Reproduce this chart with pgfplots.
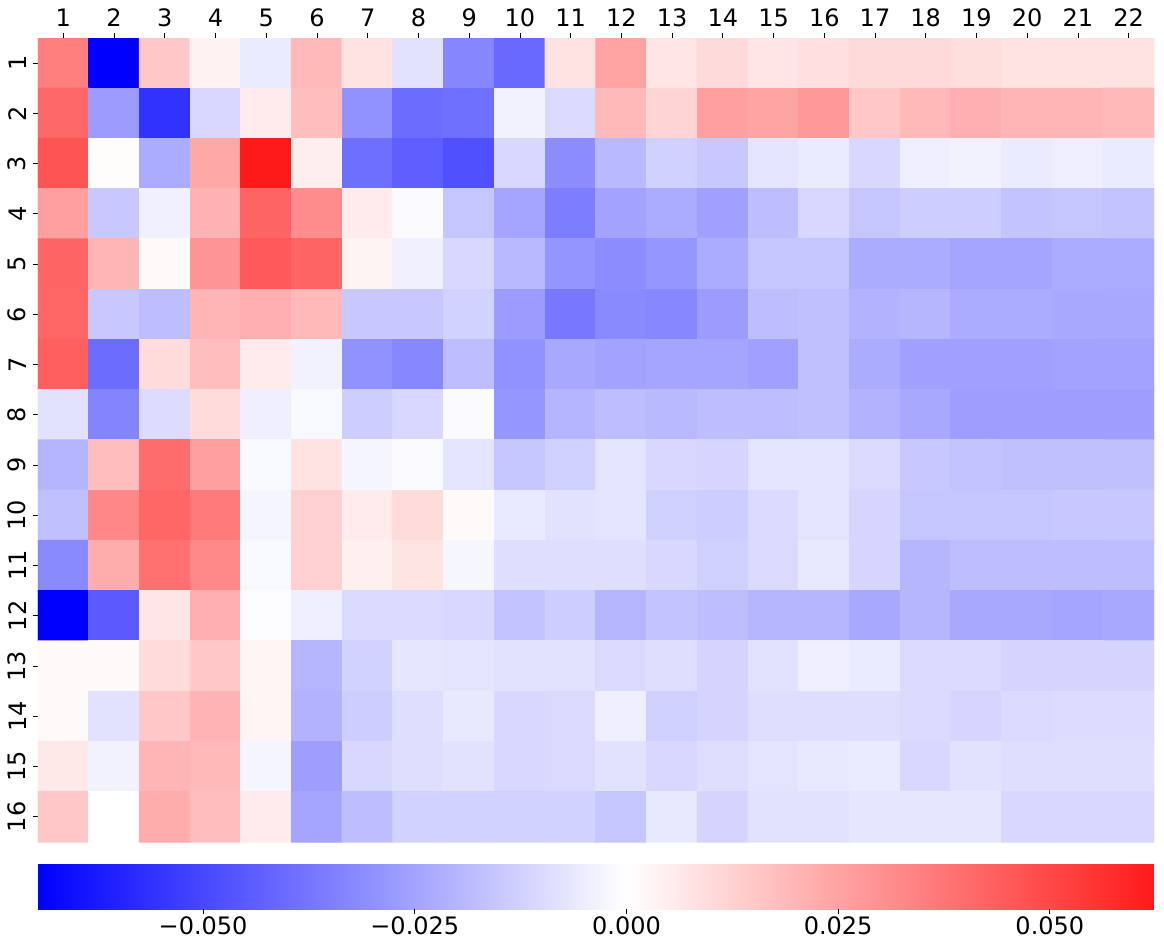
\documentclass[border=0pt]{standalone}
\usepackage{fontspec}
\setmainfont{DejaVu Sans}
\usepackage{pgfplots}
\pgfplotsset{compat=1.18}

\begin{document}
\begin{tikzpicture}
\begin{axis}[
    name=hm,
    scale only axis,
    width=334.8pt, height=241.2pt,
    xmin=0.5, xmax=22.5, ymin=0.5, ymax=16.5,
    y dir=reverse,
    enlargelimits=false,
    axis line style={draw=none},
    xtick={1,...,22}, ytick={1,...,16},
    xtick pos=upper, xticklabel pos=upper,
    ytick pos=left, yticklabel pos=left,
    tick align=outside,
    major tick length=1.5pt,
    tick style={black, line width=0.25pt},
    xticklabel style={yshift=-1.6pt},
    yticklabel style={xshift=1.5pt, rotate=90},
    tick label style={font=\fontsize{7.2}{8.6}\selectfont},
    /pgf/number format/assume math mode=true,
    colormap={bwr}{rgb255(0cm)=(0,0,255) rgb255(6.95cm)=(255,255,255) rgb255(13.18cm)=(255,26,26)},
    point meta min=-0.0695, point meta max=0.0623,
    colorbar horizontal,
    colorbar style={
        scale only axis,
        width=334.8pt, height=13.5pt,
        at={(parent axis.south west)}, anchor=north west, yshift=1.8pt,
        axis line style={draw=none},
        scaled x ticks=false,
        xtick={-0.05,-0.025,0,0.025,0.05},
        xticklabels={−0.050,−0.025,0.000,0.025,0.050},
        tick align=outside,
        major tick length=1.5pt,
        tick style={black, line width=0.25pt},
        xtick pos=lower, xticklabel pos=lower,
        xticklabel style={yshift=3pt},
        tick label style={font=\fontsize{7.2}{8.6}\selectfont},
    },
]
\addplot[matrix plot*, mesh/cols=22, point meta=explicit] coordinates {
(1,1)[0.035] (2,1)[-0.0695] (3,1)[0.015] (4,1)[0.0035] (5,1)[-0.0055] (6,1)[0.019] (7,1)[0.008] (8,1)[-0.008] (9,1)[-0.033] (10,1)[-0.041] (11,1)[0.008] (12,1)[0.025] (13,1)[0.007] (14,1)[0.010] (15,1)[0.007] (16,1)[0.0087] (17,1)[0.010] (18,1)[0.010] (19,1)[0.009] (20,1)[0.008] (21,1)[0.008] (22,1)[0.008]

(1,2)[0.041] (2,2)[-0.027] (3,2)[-0.056] (4,2)[-0.011] (5,2)[0.0055] (6,2)[0.0177] (7,2)[-0.030] (8,2)[-0.040] (9,2)[-0.039] (10,2)[-0.0035] (11,2)[-0.010] (12,2)[0.019] (13,2)[0.0117] (14,2)[0.026] (15,2)[0.025] (16,2)[0.028] (17,2)[0.015] (18,2)[0.019] (19,2)[0.0218] (20,2)[0.020] (21,2)[0.020] (22,2)[0.019]

(1,3)[0.0465] (2,3)[0.0008] (3,3)[-0.023] (4,3)[0.0237] (5,3)[0.0623] (6,3)[0.0046] (7,3)[-0.0395] (8,3)[-0.0436] (9,3)[-0.0477] (10,3)[-0.011] (11,3)[-0.031] (12,3)[-0.019] (13,3)[-0.0125] (14,3)[-0.015] (15,3)[-0.0074] (16,3)[-0.0055] (17,3)[-0.011] (18,3)[-0.0046] (19,3)[-0.0035] (20,3)[-0.0055] (21,3)[-0.0046] (22,3)[-0.0055]

(1,4)[0.026] (2,4)[-0.015] (3,4)[-0.004] (4,4)[0.021] (5,4)[0.042] (6,4)[0.031] (7,4)[0.0055] (8,4)[-0.001] (9,4)[-0.0155] (10,4)[-0.0245] (11,4)[-0.0354] (12,4)[-0.025] (13,4)[-0.023] (14,4)[-0.026] (15,4)[-0.018] (16,4)[-0.011] (17,4)[-0.0155] (18,4)[-0.0136] (19,4)[-0.0136] (20,4)[-0.0164] (21,4)[-0.0155] (22,4)[-0.0164]

(1,5)[0.042] (2,5)[0.020] (3,5)[0.0015] (4,5)[0.029] (5,5)[0.045] (6,5)[0.042] (7,5)[0.003] (8,5)[-0.004] (9,5)[-0.011] (10,5)[-0.019] (11,5)[-0.029] (12,5)[-0.031] (13,5)[-0.0286] (14,5)[-0.023] (15,5)[-0.0155] (16,5)[-0.0155] (17,5)[-0.0226] (18,5)[-0.023] (19,5)[-0.0245] (20,5)[-0.0245] (21,5)[-0.023] (22,5)[-0.023]

(1,6)[0.0417] (2,6)[-0.015] (3,6)[-0.0177] (4,6)[0.020] (5,6)[0.0218] (6,6)[0.019] (7,6)[-0.015] (8,6)[-0.015] (9,6)[-0.0123] (10,6)[-0.027] (11,6)[-0.0368] (12,6)[-0.0319] (13,6)[-0.0327] (14,6)[-0.027] (15,6)[-0.0177] (16,6)[-0.0172] (17,6)[-0.021] (18,6)[-0.020] (19,6)[-0.023] (20,6)[-0.023] (21,6)[-0.0237] (22,6)[-0.0237]

(1,7)[0.0436] (2,7)[-0.040] (3,7)[0.0095] (4,7)[0.018] (5,7)[0.0055] (6,7)[-0.0035] (7,7)[-0.030] (8,7)[-0.0327] (9,7)[-0.0177] (10,7)[-0.030] (11,7)[-0.0237] (12,7)[-0.025] (13,7)[-0.0245] (14,7)[-0.0245] (15,7)[-0.026] (16,7)[-0.0172] (17,7)[-0.0226] (18,7)[-0.026] (19,7)[-0.026] (20,7)[-0.026] (21,7)[-0.025] (22,7)[-0.025]

(1,8)[-0.008] (2,8)[-0.0335] (3,8)[-0.0095] (4,8)[0.0095] (5,8)[-0.0046] (6,8)[-0.002] (7,8)[-0.0136] (8,8)[-0.011] (9,8)[-0.001] (10,8)[-0.0286] (11,8)[-0.0204] (12,8)[-0.0177] (13,8)[-0.019] (14,8)[-0.0177] (15,8)[-0.0177] (16,8)[-0.0172] (17,8)[-0.021] (18,8)[-0.0237] (19,8)[-0.0264] (20,8)[-0.0264] (21,8)[-0.0264] (22,8)[-0.0264]

(1,9)[-0.0204] (2,9)[0.0177] (3,9)[0.040] (4,9)[0.026] (5,9)[-0.002] (6,9)[0.008] (7,9)[-0.0027] (8,9)[-0.0014] (9,9)[-0.0074] (10,9)[-0.0155] (11,9)[-0.0128] (12,9)[-0.0074] (13,9)[-0.011] (14,9)[-0.0114] (15,9)[-0.0074] (16,9)[-0.0074] (17,9)[-0.010] (18,9)[-0.015] (19,9)[-0.0164] (20,9)[-0.0172] (21,9)[-0.0172] (22,9)[-0.0172]

(1,10)[-0.0172] (2,10)[0.0327] (3,10)[0.0417] (4,10)[0.036] (5,10)[-0.0027] (6,10)[0.0128] (7,10)[0.0055] (8,10)[0.0095] (9,10)[0.0014] (10,10)[-0.006] (11,10)[-0.008] (12,10)[-0.0074] (13,10)[-0.0128] (14,10)[-0.0136] (15,10)[-0.010] (16,10)[-0.0074] (17,10)[-0.0114] (18,10)[-0.0155] (19,10)[-0.0155] (20,10)[-0.0155] (21,10)[-0.015] (22,10)[-0.015]

(1,11)[-0.032] (2,11)[0.0226] (3,11)[0.039] (4,11)[0.032] (5,11)[-0.002] (6,11)[0.0128] (7,11)[0.004] (8,11)[0.0074] (9,11)[-0.0025] (10,11)[-0.009] (11,11)[-0.009] (12,11)[-0.009] (13,11)[-0.011] (14,11)[-0.0128] (15,11)[-0.010] (16,11)[-0.0063] (17,11)[-0.0114] (18,11)[-0.020] (19,11)[-0.0177] (20,11)[-0.0177] (21,11)[-0.0177] (22,11)[-0.0177]

(1,12)[-0.0695] (2,12)[-0.045] (3,12)[0.0068] (4,12)[0.0218] (5,12)[-0.0005] (6,12)[-0.0046] (7,12)[-0.010] (8,12)[-0.010] (9,12)[-0.011] (10,12)[-0.0164] (11,12)[-0.0136] (12,12)[-0.020] (13,12)[-0.0164] (14,12)[-0.0177] (15,12)[-0.020] (16,12)[-0.020] (17,12)[-0.0237] (18,12)[-0.020] (19,12)[-0.0237] (20,12)[-0.0237] (21,12)[-0.0245] (22,12)[-0.0237]

(1,13)[0.0014] (2,13)[0.0014] (3,13)[0.0095] (4,13)[0.015] (5,13)[0.0027] (6,13)[-0.020] (7,13)[-0.0123] (8,13)[-0.0068] (9,13)[-0.0074] (10,13)[-0.008] (11,13)[-0.008] (12,13)[-0.010] (13,13)[-0.009] (14,13)[-0.0117] (15,13)[-0.008] (16,13)[-0.0046] (17,13)[-0.0055] (18,13)[-0.010] (19,13)[-0.010] (20,13)[-0.0117] (21,13)[-0.0117] (22,13)[-0.0117]

(1,14)[0.0014] (2,14)[-0.008] (3,14)[0.015] (4,14)[0.0204] (5,14)[0.0027] (6,14)[-0.021] (7,14)[-0.0136] (8,14)[-0.009] (9,14)[-0.0063] (10,14)[-0.011] (11,14)[-0.010] (12,14)[-0.0046] (13,14)[-0.0128] (14,14)[-0.0117] (15,14)[-0.009] (16,14)[-0.009] (17,14)[-0.009] (18,14)[-0.010] (19,14)[-0.0114] (20,14)[-0.010] (21,14)[-0.0095] (22,14)[-0.0095]

(1,15)[0.0063] (2,15)[-0.0035] (3,15)[0.020] (4,15)[0.019] (5,15)[-0.0027] (6,15)[-0.0264] (7,15)[-0.011] (8,15)[-0.009] (9,15)[-0.008] (10,15)[-0.011] (11,15)[-0.010] (12,15)[-0.008] (13,15)[-0.011] (14,15)[-0.009] (15,15)[-0.0074] (16,15)[-0.0063] (17,15)[-0.0055] (18,15)[-0.011] (19,15)[-0.008] (20,15)[-0.009] (21,15)[-0.009] (22,15)[-0.009]

(1,16)[0.015] (2,16)[0] (3,16)[0.0226] (4,16)[0.0177] (5,16)[0.0055] (6,16)[-0.0245] (7,16)[-0.0177] (8,16)[-0.0123] (9,16)[-0.0123] (10,16)[-0.0123] (11,16)[-0.0123] (12,16)[-0.0155] (13,16)[-0.0063] (14,16)[-0.0117] (15,16)[-0.008] (16,16)[-0.008] (17,16)[-0.0068] (18,16)[-0.0068] (19,16)[-0.0068] (20,16)[-0.011] (21,16)[-0.011] (22,16)[-0.011]
};
\coordinate (tl) at (axis cs:0.5,0.5);
\coordinate (br) at (axis cs:22.5,16.5);
\end{axis}
\pgfresetboundingbox
\path[use as bounding box] ([xshift=-11.4pt,yshift=11.4pt]tl) rectangle ([xshift=3pt,yshift=-31.2pt]br);
\end{tikzpicture}
\end{document}
